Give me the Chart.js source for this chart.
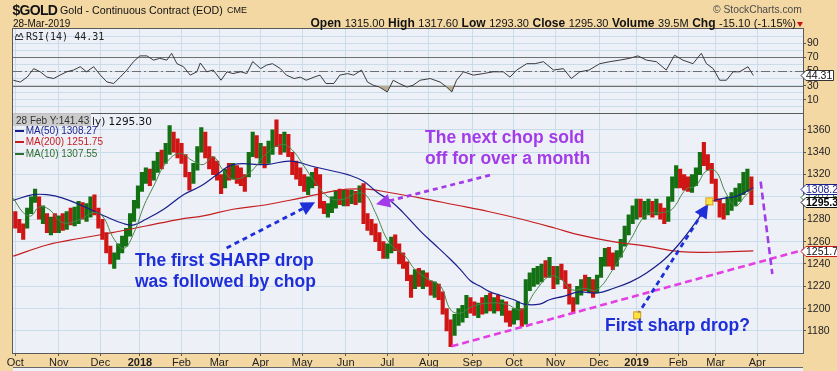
<!DOCTYPE html>
<html><head><meta charset="utf-8">
<script src="https://cdn.jsdelivr.net/npm/chart.js@4.4.1/dist/chart.umd.min.js"></script>
<style>
html,body{margin:0;padding:0;}
body{width:837px;height:371px;background:#F4D8A4;position:relative;overflow:hidden;font-family:Arial,"Liberation Sans",sans-serif;}
#c{position:absolute;left:0;top:0;}
.t{position:absolute;white-space:nowrap;line-height:1;}
.ann{position:absolute;white-space:nowrap;font:bold 17.5px Arial,"Liberation Sans",sans-serif;line-height:21.5px;}
.dash{position:absolute;height:2px;width:9px;}
</style></head><body>
<canvas id="c" width="837" height="371"></canvas>

<div class="t" style="left:12.5px;top:3.2px;font-weight:bold;font-size:14px;letter-spacing:-0.7px;color:#111">$GOLD</div>
<div class="t" style="left:60px;top:4.9px;font-size:10.7px;color:#111">Gold - Continuous Contract (EOD)</div>
<div class="t" style="left:227px;top:6.4px;font-size:9px;color:#111">CME</div>
<div class="t" style="left:13px;top:18.5px;font-size:10px;color:#111">28-Mar-2019</div>
<div class="t" style="right:41px;top:16.5px;font-size:11px;color:#111;word-spacing:0.5px"><b style="font-size:12px">Open</b> 1315.00 <b style="font-size:12px">High</b> 1317.60 <b style="font-size:12px">Low</b> 1293.30 <b style="font-size:12px">Close</b> 1295.30 <b style="font-size:12px">Volume</b> 39.5M <b style="font-size:12px">Chg</b> -15.10 (-1.15%)</div>
<div style="position:absolute;left:797px;top:22px;width:0;height:0;border-left:3.5px solid transparent;border-right:3.5px solid transparent;border-top:5px solid #D01010"></div>
<div class="t" style="left:713px;top:5.3px;font-size:10.3px;color:#4a4a4a">&copy; StockCharts.com</div>

<svg style="position:absolute;left:15px;top:32px" width="9" height="8"><polyline points="0,7 2,2 4,5 6,1 8,6" fill="none" stroke="#333" stroke-width="1"/><line x1="0" y1="7.5" x2="8" y2="7.5" stroke="#333"/></svg>
<div class="t" style="left:26px;top:31px;font:10px 'DejaVu Sans Mono',monospace;color:#222">RSI(14) 44.31</div>

<div class="t" style="left:92px;top:115px;font:10.5px 'DejaVu Sans',sans-serif;color:#111">ly) 1295.30</div>
<div class="dash" style="left:15px;top:130px;background:#1B1F8A"></div>
<div class="t" style="left:25.7px;top:126px;font-size:10px;color:#1B1F8A">MA(50) 1308.27</div>
<div class="dash" style="left:15px;top:141px;background:#C41E1E"></div>
<div class="t" style="left:25.7px;top:137px;font-size:10px;color:#C41E1E">MA(200) 1251.75</div>
<div class="dash" style="left:15px;top:152.5px;background:#2E6E2E"></div>
<div class="t" style="left:25.7px;top:148.5px;font-size:10px;color:#2E6E2E">MA(10) 1307.55</div>
<div class="t" style="left:13px;top:113px;width:75px;height:10px;padding:2.5px 0 0 3px;background:rgba(200,200,200,0.95);font-size:10px;color:#333">28 Feb Y:141.43</div>

<div class="ann" style="left:135px;top:249.5px;color:#1F2FD8">The first SHARP drop<br>was followed by chop</div>
<div class="ann" style="left:425px;top:126.5px;color:#A23BE8">The next chop sold<br>off for over a month</div>
<div class="ann" style="left:605px;top:315px;color:#1F2FD8">First sharp drop?</div>

<div style="position:absolute;left:13px;top:367px;width:790px;height:4px;border-top:1px solid #666;background:#EEF0F8"></div>

<script>
// ---- x axis: trading-day index of each month start ----
const monthIdx    = [0,22,43,63,84,103,124,145,167,188,209,231,252,273,295,314,335,354,375];
const monthLabels = ['Oct','Nov','Dec','2018','Feb','Mar','Apr','May','Jun','Jul','Aug','Sep','Oct','Nov','Dec','2019','Feb','Mar','Apr'];

// ---- price bars, one per 2 trading days (index 0,2,4,...) ----
const barStep = 2;
const barLow = [
 1272,1268,1262,1272,1285,1295,1280,1276,1268,1266,1268,
 1268,1270,1271,1275,1274,1276,1280,1278,1282,1284,1272,
 1262,1250,1240,1236,1244,1250,1256,1265,1278,1290,
 1305,1312,1310,1315,1322,1325,1330,1338,1340,1335,
 1330,1318,1306,1312,1324,1340,1335,1325,1320,1315,
 1303,1308,1315,1316,1312,1310,1305,1318,1336,1335,
 1330,1326,1330,1338,1345,1338,1340,1336,1320,1316,1310,
 1305,1302,1308,1310,1290,1285,1282,1286,1290,1293,1292,
 1292,1294,1293,1295,1276,1270,1266,1260,1252,1245,
 1245,1250,1252,1240,1236,1225,1210,1218,1220,1218,1220,
 1212,1210,1208,1195,1180,1166,1176,1185,1188,1192,1196,
 1194,1192,1195,1196,1198,1196,1198,1194,1188,1184,
 1186,1190,1184,1186,1216,1220,1222,1224,1228,1228,1218,
 1222,1226,1218,1204,1196,1204,1212,1216,1214,1210,1214,
 1228,1238,1238,1235,1238,1246,1256,1266,1276,
 1280,1282,1280,1284,1282,1284,1280,1276,1278,1296,1308,
 1308,1306,1305,1304,1310,1320,1328,1324,1312,
 1296,1282,1280,1284,1288,1292,1296,1302,1305,1293];
const barHigh = [
 1287,1280,1276,1290,1300,1307,1300,1292,1285,1282,1285,
 1283,1285,1287,1290,1291,1296,1295,1294,1300,1302,1290,
 1280,1268,1256,1250,1258,1265,1272,1285,1297,1310,
 1322,1326,1325,1332,1340,1342,1348,1364,1358,1352,
 1348,1338,1322,1330,1345,1362,1358,1345,1336,1332,
 1320,1325,1330,1330,1328,1326,1320,1340,1358,1355,
 1348,1345,1350,1360,1369,1356,1358,1356,1340,1332,1326,
 1320,1318,1322,1326,1320,1296,1294,1300,1306,1307,1306,
 1306,1306,1305,1310,1312,1285,1280,1276,1268,1260,
 1258,1264,1266,1258,1250,1242,1230,1235,1236,1234,1232,
 1225,1224,1222,1215,1200,1190,1195,1200,1203,1212,1210,
 1206,1205,1210,1212,1214,1210,1212,1208,1206,1198,
 1200,1206,1200,1226,1232,1236,1238,1240,1243,1246,1238,
 1238,1240,1234,1222,1210,1220,1226,1230,1228,1226,1230,
 1246,1254,1255,1250,1252,1262,1274,1284,1292,
 1298,1298,1296,1298,1296,1298,1294,1290,1300,1318,1328,
 1325,1320,1318,1320,1326,1340,1349,1338,1330,
 1316,1298,1294,1300,1304,1308,1312,1322,1325,1318];
const barClose = [
 1275,1272,1270,1288,1297,1302,1283,1288,1272,1276,1272,
 1278,1274,1283,1279,1288,1292,1284,1290,1295,1289,1275,
 1265,1253,1246,1248,1255,1262,1268,1281,1294,1305,
 1318,1320,1316,1328,1336,1330,1344,1350,1344,1340,
 1335,1322,1315,1326,1340,1355,1340,1330,1328,1318,
 1306,1322,1320,1326,1316,1314,1312,1336,1350,1340,
 1342,1332,1346,1352,1348,1344,1350,1340,1325,1320,1314,
 1310,1314,1318,1316,1292,1289,1290,1296,1300,1298,1300,
 1296,1302,1298,1303,1280,1276,1270,1264,1256,1252,
 1254,1258,1256,1244,1240,1228,1222,1230,1226,1230,1224,
 1216,1218,1212,1198,1185,1180,1190,1195,1196,1205,1200,
 1198,1202,1200,1208,1202,1206,1201,1204,1192,1188,
 1196,1200,1188,1222,1226,1228,1230,1236,1232,1240,1222,
 1234,1230,1222,1206,1204,1216,1222,1220,1226,1214,1226,
 1244,1246,1242,1240,1248,1258,1270,1280,1284,
 1292,1286,1290,1294,1288,1290,1284,1280,1298,1312,1322,
 1312,1310,1308,1314,1322,1336,1334,1328,1316,
 1298,1286,1284,1296,1298,1304,1308,1316,1320,1295];

// ---- moving averages (trading-day index, value) ----
const ma10Idx = [-1,4,8,12,17,24,33,39,44,50,55,60,65,70,76,83,90,95,100,105,110,118,127,135,140,145,152,159,166,172,177,182,189,197,202,209,215,220,225,231,239,248,256,263,270,276,281,288,294,302,311,319,327,332,339,344,349,354,359,364,369,373];
const ma10    = [1299,1286,1283,1291,1289,1277,1280,1286,1283,1262,1254,1268,1292,1310,1330,1339,1332,1329,1336,1324,1316,1321,1339,1347,1342,1330,1312,1299,1298,1303,1302,1286,1259,1247,1235,1226,1220,1199,1196,1202,1205,1204,1199,1216,1229,1226,1217,1218,1217,1235,1262,1284,1286,1289,1307,1310,1323,1323,1304,1292,1301,1307.55];
const ma50Idx = [-1,9,16,24,34,45,55,60,66,75,85,94,102,110,127,139,151,161,168,176,183,190,196,205,211,220,225,230,235,240,245,252,257,265,270,277,285,294,302,311,319,328,336,345,351,356,365,373];
const ma50    = [1297,1302,1302,1299,1292,1283,1276,1275,1280,1289,1302,1310,1320,1329,1329,1332,1327,1323,1320,1314,1304,1296,1286,1269,1259,1244,1235,1225,1220,1215,1212,1208,1204,1204,1208,1211,1215,1214,1218,1224,1232,1244,1259,1280,1295,1298,1301,1308.27];
const ma200Idx = [-1,16,33,49,66,83,95,110,127,144,160,168,178,189,205,222,239,256,273,285,302,319,336,353,373];
const ma200    = [1247,1257,1263,1268,1274,1280,1283,1289,1293,1299,1305,1307,1307,1304,1299,1293,1287,1280,1272,1266,1260,1256,1251,1250.5,1251.75];

// ---- RSI(14) ----
const rsiIdx = [-1,2.5,6,9.3,12.6,16,19.4,22.7,26,29.5,32.8,36,39.6,43,46.3,49.7,53,56.4,59.8,63,66.5,69.9,73,76.6,79,81.7,85,88.4,91.8,93.5,96.8,100,104,107,110,114,117,120,124,127,130,134,137,141,144,147,151,154,157,161,164,168,171,175,178,181,184,188,191,194,198,201,204.6,209.7,214.7,218,220.6,223,226.5,231.5,236.5,241.6,246.6,250,253.4,258.5,262.7,266.9,272,277,281,285.3,290,295.4,300.4,305.5,310.5,314.7,319,324,329,333.2,337.4,342.5,346.7,349.3,352.7,356,359.4,362.8,366,370.3,373];
const rsi    = [37.6,35,42,54,49.5,42,40,45,49.5,52,56.7,49.5,56.7,44.8,35.2,33,42,52,64,72,72,66,68.6,66,75.7,61,56.7,44.8,49.5,62,49.5,52,37.6,49.5,47,49.5,47,64,54,59,61,54,44.8,40,42,37.6,42,44.8,33,33,44.8,47,44.8,52,35,30.5,28,21,37.6,33,28,30.5,37.6,40,35,28,21,37.6,49.5,44.8,47,49.5,49.5,42,52,61,61,63.8,52,54,40,49.5,52,61,63.8,66,68.6,72,66,63.8,52,73,66,61,75.7,61,54,37.6,37.6,49.5,49.5,56.7,44.31];

// ---- axis tick values ----
const priceTicks = [1180,1200,1220,1240,1260,1280,1300,1320,1340,1360];
const rsiTickLabels = [10,30,50,70,90];
const rsiGrid = [0,10,20,30,40,50,60,70,80,90,100];

// ---- last values shown as tags on the right axis ----
const lastClose = 1295.30, lastMa50 = 1308.27, lastMa10 = 1307.55, lastMa200 = 1251.75, lastRsi = 44.31;

// ---- hand-drawn annotations (in data space: trading-day index, price) ----
const annLines = [
  {from:[220.5,1166.3], to:[398.1,1252.5], color:'#E33FE3'},
  {from:[376.7,1313.7], to:[382.6,1231.0], color:'#A23BE8'}
];
const annArrows = [
  {from:[106.8,1254.3], to:[151.5,1295.2], color:'#1F2FD8'},
  {from:[239.9,1319.6], to:[182.3,1293.4], color:'#A23BE8'},
  {from:[314.3,1194.0], to:[350.2,1293.7], color:'#1F2FD8'}
];
const annMarkers = [[314.3,1194.0],[350.8,1296.0]];

// ---------------------------------------------------------------
const RED = '#D01515', GREEN = '#137013';
const barData = barLow.map((lo,i)=>({x:i*barStep, y:[lo, barHigh[i]]}));
const barColors = barClose.map((c,i)=>{
  const prev = i===0 ? (barLow[0]+barHigh[0])/2 : barClose[i-1];
  return c >= prev ? GREEN : RED;
});
const pts = (xs,ys)=>xs.map((x,i)=>({x, y:ys[i]}));

const panelPlugin = {
  id:'panels',
  beforeDraw(chart){
    const {ctx, chartArea:a} = chart;
    ctx.save();
    ctx.fillStyle = '#EEF0F8';
    ctx.fillRect(a.left, a.top, a.right-a.left, a.bottom-a.top);
    ctx.restore();
  },
  beforeDatasetsDraw(chart){
    const {ctx, chartArea:a} = chart, r = chart.scales.rsi;
    ctx.save();
    ctx.lineWidth = 1;
    ctx.strokeStyle = '#707070';
    [30,70].forEach(v=>{
      const y = Math.round(r.getPixelForValue(v))+0.5;
      ctx.beginPath(); ctx.moveTo(a.left,y); ctx.lineTo(a.right,y); ctx.stroke();
    });
    ctx.setLineDash([9,3,2,3]);
    const y5 = Math.round(r.getPixelForValue(50))+0.5;
    ctx.beginPath(); ctx.moveTo(a.left,y5); ctx.lineTo(a.right,y5); ctx.stroke();
    ctx.restore();
  },
  afterDatasetsDraw(chart){
    const {ctx, chartArea:a} = chart, xs = chart.scales.x, ps = chart.scales.price;
    const P = (p)=>[xs.getPixelForValue(p[0]), ps.getPixelForValue(p[1])];
    ctx.save();
    ctx.beginPath(); ctx.rect(a.left, ps.top, a.right-a.left, ps.bottom-ps.top); ctx.clip();
    ctx.lineWidth = 2.6; ctx.lineCap = 'butt';
    annLines.forEach(l=>{
      const [x1,y1]=P(l.from),[x2,y2]=P(l.to);
      ctx.strokeStyle = l.color; ctx.setLineDash([7,4]);
      ctx.beginPath(); ctx.moveTo(x1,y1); ctx.lineTo(x2,y2); ctx.stroke();
    });
    annArrows.forEach(l=>{
      const [x1,y1]=P(l.from),[x2,y2]=P(l.to);
      const ang = Math.atan2(y2-y1,x2-x1), L = 14, W = 7;
      const bx = x2 - L*Math.cos(ang), by = y2 - L*Math.sin(ang);
      ctx.strokeStyle = l.color; ctx.setLineDash([5,4]); ctx.lineWidth = 2.8;
      ctx.beginPath(); ctx.moveTo(x1,y1); ctx.lineTo(bx,by); ctx.stroke();
      ctx.setLineDash([]);
      ctx.fillStyle = l.color;
      ctx.beginPath(); ctx.moveTo(x2,y2);
      ctx.lineTo(bx + W*Math.sin(ang), by - W*Math.cos(ang));
      ctx.lineTo(bx - W*Math.sin(ang), by + W*Math.cos(ang));
      ctx.closePath(); ctx.fill();
    });
    ctx.setLineDash([]);
    annMarkers.forEach(m=>{
      const [x,y]=P(m);
      ctx.fillStyle='#FFE23A'; ctx.strokeStyle='#D89A00'; ctx.lineWidth=1;
      ctx.fillRect(x-3,y-3,6,6); ctx.strokeRect(x-3.5,y-3.5,7,7);
    });
    ctx.restore();
  },
  afterDraw(chart){
    const {ctx, chartArea:a} = chart, r = chart.scales.rsi, ps = chart.scales.price;
    ctx.save();
    ctx.strokeStyle = '#5A5A5A'; ctx.lineWidth = 1;
    ctx.strokeRect(Math.round(a.left)-0.5, Math.round(a.top)-0.5, Math.round(a.right-a.left)+1, Math.round(a.bottom-a.top)+1);
    const ys = Math.round(r.bottom)+0.5;
    ctx.beginPath(); ctx.moveTo(a.left,ys); ctx.lineTo(a.right,ys); ctx.stroke();
    function tag(y, text, stroke, color, bold, right){
      const x0 = a.right - 2, h = 10;
      ctx.beginPath();
      ctx.moveTo(x0, y); ctx.lineTo(x0+5, y-h/2); ctx.lineTo(right, y-h/2); ctx.lineTo(right, y+h/2); ctx.lineTo(x0+5, y+h/2); ctx.closePath();
      ctx.fillStyle = '#fff'; ctx.fill();
      ctx.strokeStyle = stroke; ctx.lineWidth = 1; ctx.stroke();
      ctx.fillStyle = color; ctx.font = (bold?'bold ':'')+'10.5px Arial';
      ctx.textBaseline = 'middle'; ctx.textAlign = 'left';
      ctx.fillText(text, x0+5, y+0.5);
    }
    tag(Math.round(ps.getPixelForValue(lastMa10))+8.5, lastMa10.toFixed(2), '#2E6E2E', '#2E6E2E', false, 845);
    tag(Math.round(ps.getPixelForValue(lastMa50))+1.5, lastMa50.toFixed(2), '#1B1F8A', '#1B1F8A', false, 845);
    tag(Math.round(ps.getPixelForValue(lastClose))+0.5, lastClose.toFixed(2), '#111', '#000', true, 845);
    tag(Math.round(ps.getPixelForValue(lastMa200))+0.5, lastMa200.toFixed(2), '#C41E1E', '#111', false, 845);
    tag(Math.round(r.getPixelForValue(lastRsi))+0.5, lastRsi.toFixed(2), '#333', '#111', false, 833.5);
    ctx.restore();
  }
};

const gridBlue = '#C8DCEA';
new Chart(document.getElementById('c'), {
  type:'bar',
  data:{ datasets:[
    {type:'bar', label:'Price', yAxisID:'price', data:barData, backgroundColor:barColors, borderWidth:0, barThickness:3.5, grouped:false, order:4},
    {type:'line', label:'MA(200)', yAxisID:'price', data:pts(ma200Idx,ma200), borderColor:'#C41E1E', borderWidth:1.2, pointRadius:0, tension:0.4, order:3},
    {type:'line', label:'MA(50)', yAxisID:'price', data:pts(ma50Idx,ma50), borderColor:'#1B1F8A', borderWidth:1.2, pointRadius:0, tension:0.4, order:2},
    {type:'line', label:'MA(10)', yAxisID:'price', data:pts(ma10Idx,ma10), borderColor:'#4A864A', borderWidth:1, pointRadius:0, tension:0.4, order:1},
    {type:'line', label:'RSI(14)', yAxisID:'rsi', data:pts(rsiIdx,rsi), borderColor:'#3A3A3A', borderWidth:1, pointRadius:0, tension:0,
      fill:{target:{value:30}, above:'rgba(0,0,0,0)', below:'#B9AB92'}, order:0}
  ]},
  options:{
    responsive:false, animation:false, devicePixelRatio:1,
    layout:{padding:{left:13, top:29, right:0, bottom:0}},
    plugins:{legend:{display:false}, tooltip:{enabled:false}},
    scales:{
      x:{type:'linear', min:-1.16, max:398.1, offset:false,
        grid:{color:gridBlue, offset:false, drawTicks:true, tickLength:3, tickColor:'#555'},
        border:{display:false},
        afterBuildTicks:s=>{ s.ticks = monthIdx.map(v=>({value:v})); },
        afterFit:s=>{ s.height = 18; },
        ticks:{autoSkip:false, maxRotation:0, minRotation:0, padding:0, color:'#222',
          callback:(v,i)=>monthLabels[i],
          font:c=>({family:'Arial', size:11, weight:(/^\d{4}$/.test(monthLabels[c.index]||''))?'bold':'normal'})}
      },
      rsi:{type:'linear', position:'right', stack:'panels', stackWeight:83.5, min:-8, max:110,
        grid:{color:gridBlue, drawTicks:true, tickLength:3, tickColor:c=>rsiTickLabels.includes(c.tick&&c.tick.value)?'#555':'rgba(0,0,0,0)'},
        border:{display:false},
        afterBuildTicks:s=>{ s.ticks = rsiGrid.map(v=>({value:v})); },
        afterFit:s=>{ s.width = 34; },
        ticks:{autoSkip:false, padding:1, color:'#222', font:{family:'Arial', size:10.5},
          callback:v=>rsiTickLabels.includes(v)?String(v):''}
      },
      price:{type:'linear', position:'right', stack:'panels', stackWeight:240.5, min:1160.3, max:1375.6,
        grid:{color:gridBlue, drawTicks:true, tickLength:3, tickColor:'#555'},
        border:{display:false},
        afterBuildTicks:s=>{ s.ticks = priceTicks.map(v=>({value:v})); },
        afterFit:s=>{ s.width = 34; },
        ticks:{autoSkip:false, padding:1, color:'#222', font:{family:'Arial', size:10.5}, callback:v=>String(v)}
      }
    }
  },
  plugins:[panelPlugin]
});
</script>
</body></html>
